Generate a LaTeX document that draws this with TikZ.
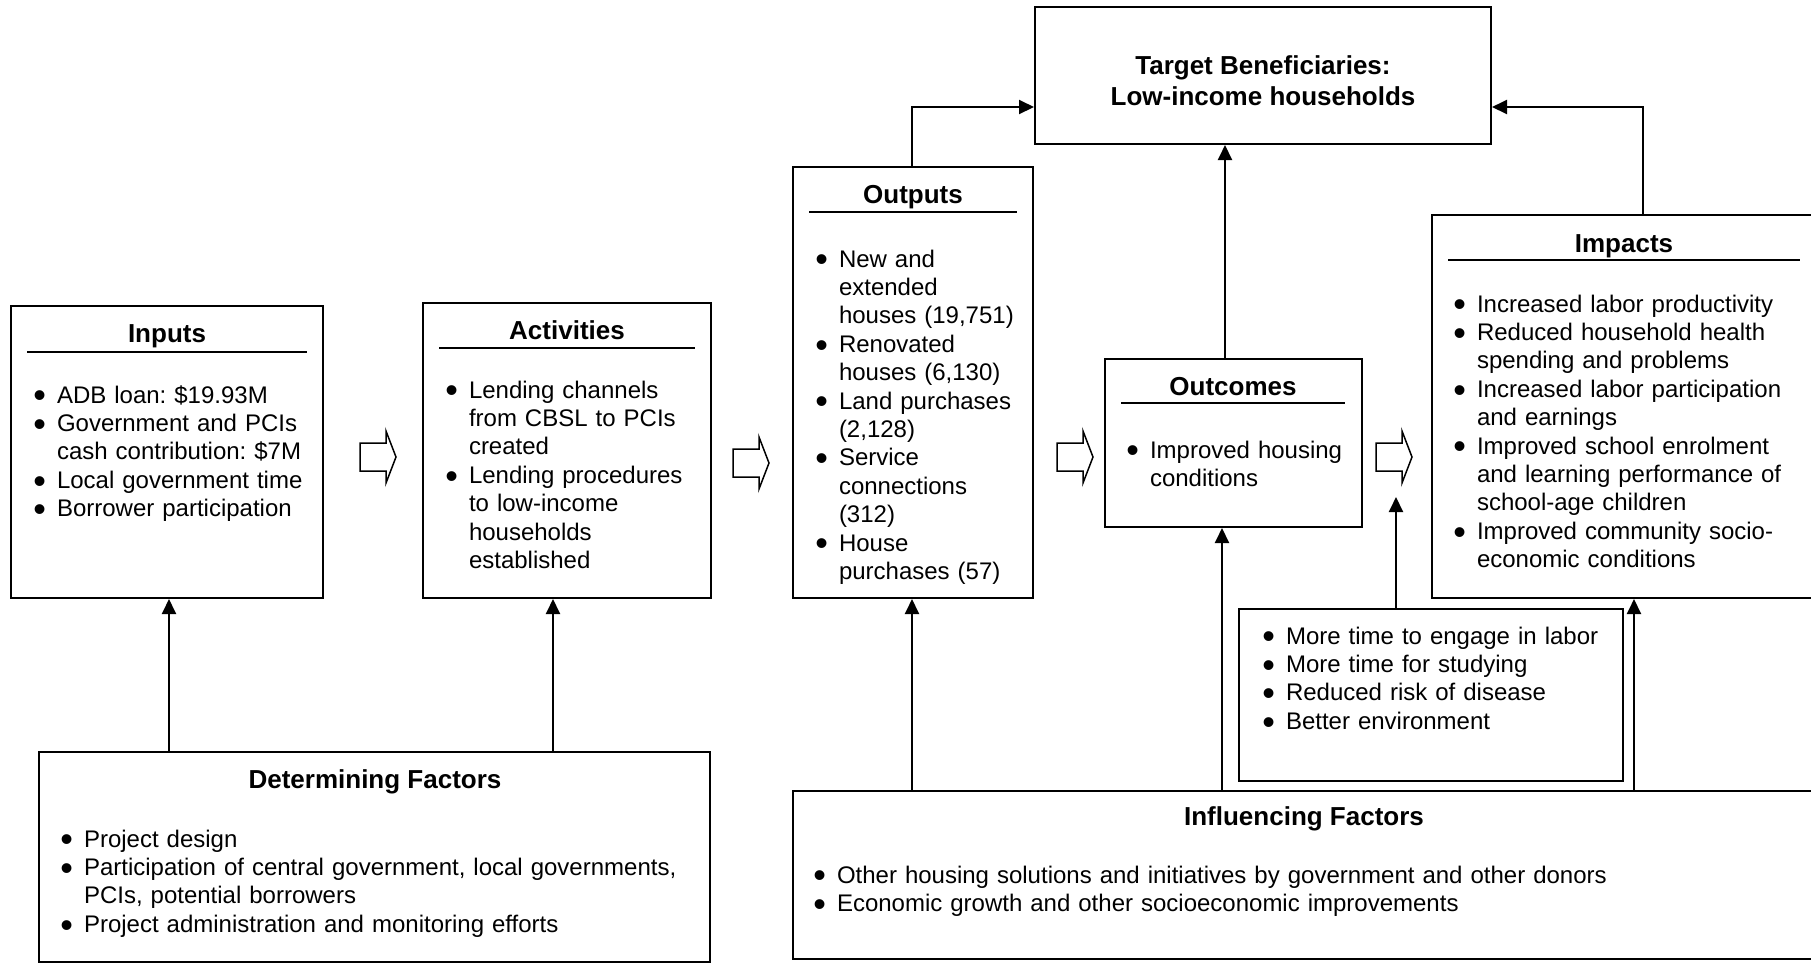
\documentclass[tikz,border=0pt]{standalone}
\usepackage{fontspec}
\usepackage{graphicx}
\setmainfont{Liberation Sans}
\usetikzlibrary{arrows.meta,fit}
\newcommand{\bul}{\makebox[11.8pt][l]{\raisebox{-0.2em}{\scalebox{1.5}{\textbullet}}}}
\newcommand{\itm}[1]{\noindent\hangindent=11.8pt\hangafter=1\bul #1\par}
\newcommand{\harrow}[2]{\draw[hollow] (#1,#2-14) -- (#1+26,#2-14) -- (#1+26,#2-26) -- (#1+36,#2) -- (#1+26,#2+26) -- (#1+26,#2+14) -- (#1,#2+14) -- cycle;}
\begin{document}
\begin{tikzpicture}[x=0.5pt,y=-0.5pt,
  box/.style={draw, line width=1pt, inner sep=0pt},
  ttl/.style={anchor=base, inner sep=0pt, font=\fontsize{13}{15.5}\selectfont\bfseries},
  lst/.style={anchor=base west, inner sep=0pt, text width=#1, font=\fontsize{12}{14.2}\selectfont\frenchspacing},
  uline/.style={line width=0.9pt},
  conn/.style={line width=1pt, -{Triangle[width=7pt,length=7.5pt]}},
  hollow/.style={line width=0.75pt, line join=miter}]
\useasboundingbox (0,0) rectangle (1811,966);
\clip (0,0) rectangle (1811,966);

% boxes
\node[box, fit={(11,306) (323,598)}] (inputs) {};
\node[box, fit={(423,303) (711,598)}] (activities) {};
\node[box, fit={(793,167) (1033,598)}] (outputs) {};
\node[box, fit={(1105,359) (1362,527)}] (outcomes) {};
\node[box, fit={(1432,215) (1816,598)}] (impacts) {};
\node[box, fit={(1035,7) (1491,144)}] (target) {};
\node[box, fit={(39,752) (710,962)}] (det) {};
\node[box, fit={(793,791) (1816,959)}] (infl) {};
\node[box, fit={(1239,609) (1623,781)}] (side) {};

% titles
\node[ttl] (tinputs) at (167,342) {Inputs};
\draw[uline] (27,352) -- (307,352);
\node[ttl] (tact) at (567,339) {Activities};
\draw[uline] (439,348) -- (695,348);
\node[ttl] (tout) at (913,203) {Outputs};
\draw[uline] (809,212) -- (1017,212);
\node[ttl] (toc) at (1233,395) {Outcomes};
\draw[uline] (1121,403) -- (1345,403);
\node[ttl] (timp) at (1624,252) {Impacts};
\draw[uline] (1448,260) -- (1800,260);
\node[ttl, align=center] (ttarget) at (1263,105) {Target Beneficiaries:\\Low-income households};
\node[ttl] (tdet) at (375,788) {Determining Factors};
\node[ttl] (tinfl) at (1304,825) {Influencing Factors};

% lists
\node[lst=140pt] (linputs) at (33,403) {%
\itm{ADB loan: \$19.93M}
\itm{Government and PCIs\newline cash contribution: \$7M}
\itm{Local government time}
\itm{Borrower participation}};
\node[lst=130pt] (lact) at (445,398) {%
\itm{Lending channels\newline from CBSL to PCIs\newline created}
\itm{Lending procedures\newline to low-income\newline households\newline established}};
\node[lst=105pt] (lout) at (815,267) {%
\itm{New and\newline extended\newline houses (19,751)}
\itm{Renovated\newline houses (6,130)}
\itm{Land purchases\newline (2,128)}
\itm{Service\newline connections\newline (312)}
\itm{House\newline purchases (57)}};
\node[lst=115pt] (loc) at (1126,458) {%
\itm{Improved housing\newline conditions}};
\node[lst=175pt] (limp) at (1453,312) {%
\itm{Increased labor productivity}
\itm{Reduced household health\newline spending and problems}
\itm{Increased labor participation\newline and earnings}
\itm{Improved school enrolment\newline and learning performance of\newline school-age children}
\itm{Improved community socio-\newline economic conditions}};
\node[lst=178pt] (lside) at (1262,644) {%
\itm{More time to engage in labor}
\itm{More time for studying}
\itm{Reduced risk of disease}
\itm{Better environment}};
\node[lst=320pt] (ldet) at (60,847) {%
\itm{Project design}
\itm{Participation of central government, local governments,\newline PCIs, potential borrowers}
\itm{Project administration and monitoring efforts}};
\node[lst=495pt] (linfl) at (813,883) {%
\itm{Other housing solutions and initiatives by government and other donors}
\itm{Economic growth and other socioeconomic improvements}};

% hollow block arrows
\harrow{360}{457}
\harrow{733}{463}
\harrow{1057}{457}
\harrow{1376}{457}

% helper x positions
\coordinate (xa) at (169,0);
\coordinate (xb) at (553,0);
\coordinate (xc) at (912,0);
\coordinate (xd) at (1222,0);
\coordinate (xe) at (1634,0);
\coordinate (xf) at (1396,0);
\coordinate (xg) at (1225,0);
\coordinate (xh) at (1643,0);
\coordinate (sidetip) at (1396,497);
\coordinate (ylvl) at (0,107);

% connectors
\draw[conn] (det.north -| xa) -- (inputs.south -| xa);
\draw[conn] (det.north -| xb) -- (activities.south -| xb);
\draw[conn] (infl.north -| xc) -- (outputs.south -| xc);
\draw[conn] (infl.north -| xd) -- (outcomes.south -| xd);
\draw[conn] (infl.north -| xe) -- (impacts.south -| xe);
\draw[conn] (side.north -| xf) -- (sidetip);
\draw[conn] (outputs.north -| xc) -- (xc |- ylvl) -- (target.west |- ylvl);
\draw[conn] (outcomes.north -| xg) -- (target.south -| xg);
\draw[conn] (impacts.north -| xh) -- (xh |- ylvl) -- (target.east |- ylvl);
\end{tikzpicture}
\end{document}
